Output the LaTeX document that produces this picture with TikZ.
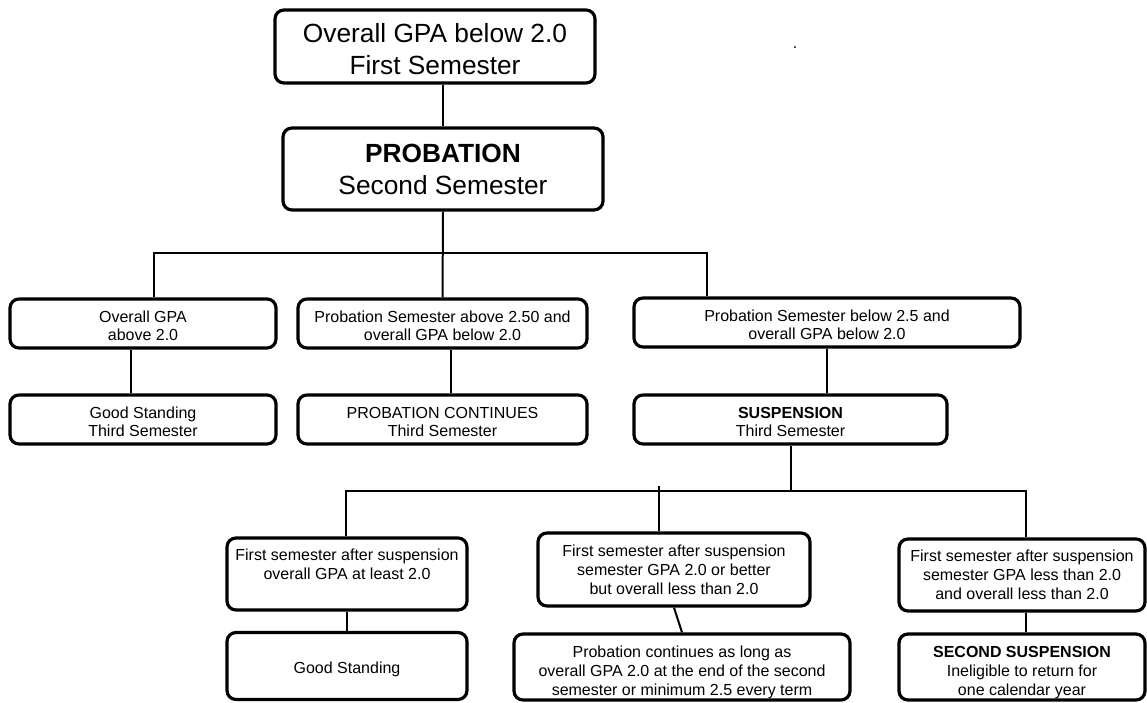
\documentclass[tikz,border=0pt]{standalone}
\usepackage{fontspec}
\setmainfont{Liberation Sans}
\newcommand{\lowr}[1]{\rule{0pt}{#1}}
\begin{document}
\begin{tikzpicture}[x=1pt,y=-1pt,
  box/.style n args={2}{draw, line width=3.2pt, rounded corners=9pt, inner sep=0pt, align=center, minimum width=#1, minimum height=#2},
  big/.style={font=\fontsize{26.3}{32}\selectfont},
  mid/.style={font=\fontsize{16}{18.5}\selectfont},
  small/.style={font=\fontsize{16}{19}\selectfont},
  conn/.style={draw, line width=2pt}]
\useasboundingbox (0,0) rectangle (1147,702);

\node[box={320pt}{73pt}, big] (t1) at (435,46.5) {\lowr{25pt}Overall GPA below 2.0\\First Semester};
\node[box={320pt}{82pt}, big] (t2) at (443,169) {\textbf{PROBATION}\\Second Semester};

\node[box={266pt}{49pt}, mid] (a1) at (143,323.5) {\lowr{16.5pt}Overall GPA\\above 2.0};
\node[box={266pt}{49pt}, mid] (a2) at (143,419.5) {\lowr{16.5pt}Good Standing\\Third Semester};
\node[box={289pt}{49pt}, mid] (b1) at (442.5,323.5) {\lowr{16.5pt}Probation Semester above 2.50 and\\overall GPA below 2.0};
\node[box={289pt}{49pt}, mid] (b2) at (442.5,419.5) {\lowr{16.5pt}PROBATION CONTINUES\\Third Semester};
\node[box={386pt}{49pt}, mid] (c1) at (827,322.5) {\lowr{16.5pt}Probation Semester below 2.5 and\\overall GPA below 2.0};
\node[box={313pt}{49pt}, mid] (c2) at (790.5,419.5) {\lowr{16.5pt}\textbf{SUSPENSION}\\Third Semester};

\node[box={240pt}{72pt}, small] (d1) at (347,574) {First semester after suspension\\overall GPA at least 2.0\\\mbox{}};
\node[box={240pt}{67pt}, small] (d2) at (347,666) {\lowr{17.5pt}Good Standing};
\node[box={272pt}{73pt}, small] (e1) at (674,569.5) {First semester after suspension\\semester GPA 2.0 or better\\but overall less than 2.0};
\node[box={336pt}{66pt}, small] (e2) at (682,667) {\lowr{21.5pt}Probation continues as long as\\overall GPA 2.0 at the end of the second\\semester or minimum 2.5 every term};
\node[box={246pt}{72pt}, small] (f1) at (1022,575) {First semester after suspension\\semester GPA less than 2.0\\and overall less than 2.0};
\node[box={246pt}{66pt}, small] (f2) at (1022,667) {\lowr{22.5pt}\textbf{SECOND SUSPENSION}\\Ineligible to return for\\one calendar year};

\node[anchor=base, inner sep=0pt, font=\fontsize{16}{19}\selectfont] (dot) at (795,48) {.};

\coordinate (bus1L) at (154,253);
\coordinate (bus1R) at (707,253);
\coordinate (bus2L) at (346,491);
\coordinate (bus2R) at (1026,491);
\coordinate (stub) at (659,486);

\draw[conn] (t1.south -| t2.north) -- (t2.north);
\draw[conn] (t2.south) -- (b1.north);
\draw[conn] (a1.north -| bus1L) -- (bus1L) -- (bus1R) -- (c1.north -| bus1R);
\draw[conn] ([xshift=-12pt]a1.south) -- ([xshift=-12pt]a2.north);
\draw[conn] ([xshift=8.5pt]b1.south) -- ([xshift=8.5pt]b2.north);
\draw[conn] (c1.south) -- (c1.south |- c2.north);
\draw[conn] (c2.south) -- (c2.south |- bus2L);
\draw[conn] (d1.north -| bus2L) -- (bus2L) -- (bus2R) -- (f1.north -| bus2R);
\draw[conn] (stub) -- (e1.north -| stub);
\draw[conn] (d1.south) -- (d2.north);
\draw[conn] (e1.south) -- (e2.north);
\draw[conn] ([xshift=4pt]f1.south) -- ([xshift=4pt]f2.north);
\end{tikzpicture}
\end{document}
